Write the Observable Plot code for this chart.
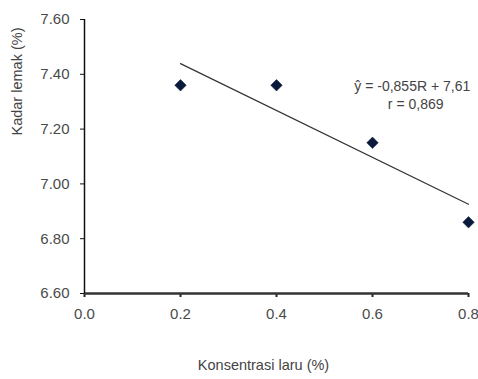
<!DOCTYPE html>
<html>
<head>
<meta charset="utf-8">
<script src="https://cdn.jsdelivr.net/npm/d3@7"></script>
<script src="https://cdn.jsdelivr.net/npm/@observablehq/plot@0.6"></script>
<style>
  html, body { margin: 0; padding: 0; background: #fff; }
  svg { display: block; }
</style>
</head>
<body>
<div id="chart"></div>
<script>
const konsentrasi = [0.2, 0.4, 0.6, 0.8];
const kadarLemak = [7.36, 7.36, 7.15, 6.86];
const xTicks = [0, 0.2, 0.4, 0.6, 0.8];
const yTicks = [6.6, 6.8, 7.0, 7.2, 7.4, 7.6];
const annotX = [0.562, 0.632];
const annotY = [7.355, 7.288];
const annotText = ["ŷ = -0,855R + 7,61", "r = 0,869"];
const xLabel = "Konsentrasi laru (%)";
const yLabel = "Kadar lemak (%)";

const data = konsentrasi.map((x, i) => ({x, y: kadarLemak[i]}));
const annot = annotText.map((t, i) => ({x: annotX[i], y: annotY[i], t}));

const chart = Plot.plot({
  width: 478,
  height: 379,
  marginLeft: 84,
  marginRight: 10,
  marginTop: 19,
  marginBottom: 86,
  style: {fontFamily: "Liberation Sans, Arial, sans-serif", fontSize: "14px", background: "#fff", overflow: "hidden"},
  x: {domain: [0, 0.8]},
  y: {domain: [6.6, 7.6]},
  marks: [
    Plot.axisX({ticks: xTicks, tickFormat: d3.format(".1f"), tickSize: 4, tickPadding: 11, stroke: "#222", strokeWidth: 2,
      fill: "#4a4a4a", fontSize: 15, label: null}),
    Plot.axisY({ticks: yTicks, tickFormat: d3.format(".2f"), tickSize: 4, tickPadding: 11, stroke: "#111",
      fill: "#4a4a4a", fontSize: 15, label: null}),
    Plot.text([xLabel], {frameAnchor: "bottom", text: d => d, dx: -13, dy: 76, fill: "#444", fontSize: 14.5}),
    Plot.text([yLabel], {frameAnchor: "left", text: d => d, rotate: -90, dx: -67, dy: -21, fill: "#444", fontSize: 14.5}),
    Plot.ruleY([6.6], {stroke: "#333", strokeWidth: 2.5}),
    Plot.ruleX([0], {stroke: "#111", strokeWidth: 1.5}),
    Plot.linearRegressionY(data, {x: "x", y: "y", ci: 0, stroke: "#333", strokeWidth: 1.2}),
    Plot.dot(data, {x: "x", y: "y", symbol: "diamond2", r: 5.2, fill: "#0b1a3c", stroke: "#0b1a3c", strokeWidth: 0.5}),
    Plot.text(annot, {x: "x", y: "y", text: "t", textAnchor: "start", fill: "#444", fontSize: 14})
  ]
});
document.getElementById("chart").appendChild(chart);
</script>
</body>
</html>
